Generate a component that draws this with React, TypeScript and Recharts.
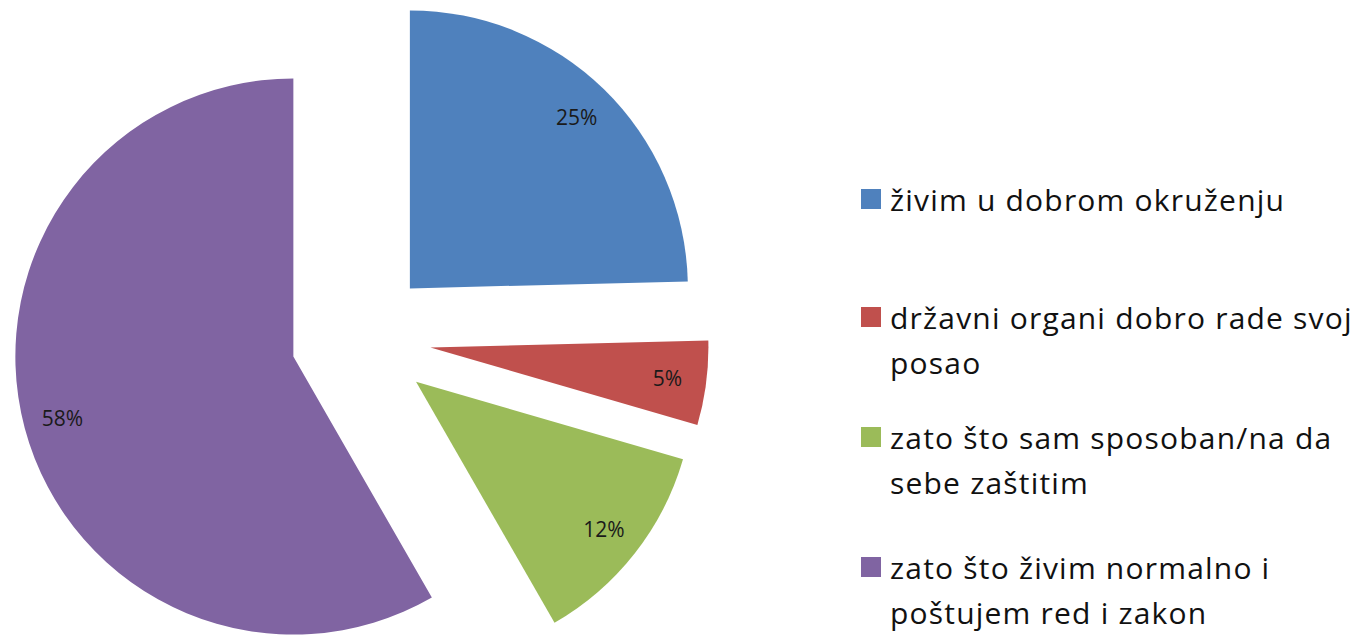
import React from 'react';
import { PieChart, Pie, Cell, Legend } from 'recharts';

const categories = [
  'živim u dobrom okruženju',
  'državni organi dobro rade svoj posao',
  'zato što sam sposoban/na da sebe zaštitim',
  'zato što živim normalno i poštujem red i zakon',
];
const legendLines = [
  ['živim u dobrom okruženju'],
  ['državni organi dobro rade svoj', 'posao'],
  ['zato što sam sposoban/na da', 'sebe zaštitim'],
  ['zato što živim normalno i', 'poštujem red i zakon'],
];
const shares = [24.6, 4.9, 12.2, 58.3];
const colors = ['#4F81BD', '#C0504D', '#9BBB59', '#8064A2'];

const data = categories.map((name, i) => ({ name, value: shares[i] }));

const WIDTH = 1363;
const HEIGHT = 635;
const CENTER_X = 361;
const CENTER_Y = 338.5;
const RADIUS = 278;
const EXPLODE = 70;
const FONT = '"Open Sans", "Noto Sans", sans-serif';

// legend item first-line centres
const legendTops = [199, 317, 437, 567];

const total = shares.reduce((a, b) => a + b, 0);
const midAngles = shares.map((v, i) => {
  const before = shares.slice(0, i).reduce((a, b) => a + b, 0);
  return ((before + v / 2) / total) * 360;
});

const RAD = Math.PI / 180;

const makeLabel = (target: number) => (props: any) => {
  const { cx, cy, midAngle, outerRadius, percent, index } = props;
  if (index !== target) return null;
  const r = outerRadius * 0.86;
  const x = cx + r * Math.cos(-midAngle * RAD);
  const y = cy + r * Math.sin(-midAngle * RAD);
  return (
    <text
      x={x}
      y={y}
      fill="#1a1a1a"
      fontSize={21}
      fontFamily={FONT}
      textAnchor="middle"
      dominantBaseline="central"
    >
      {`${Math.round(percent * 100)}%`}
    </text>
  );
};

const LegendContent = () => (
  <div style={{ position: 'relative', width: 490, height: HEIGHT, fontFamily: FONT }}>
    {legendLines.map((lines, i) => (
      <div key={i} style={{ position: 'absolute', left: 0, top: legendTops[i] - 22 }}>
        <div
          style={{
            position: 'absolute',
            left: 0,
            top: 12,
            width: 20,
            height: 20,
            background: colors[i],
          }}
        />
        <div
          style={{
            marginLeft: 29,
            fontSize: 30,
            letterSpacing: 1.2,
            lineHeight: '45px',
            color: '#111',
            whiteSpace: 'nowrap',
          }}
        >
          {lines.map((l, j) => (
            <div key={j}>{l}</div>
          ))}
        </div>
      </div>
    ))}
  </div>
);

export default function App() {
  return (
    <div style={{ position: 'absolute', left: 0, top: 0, background: '#fff' }}>
      <PieChart width={WIDTH} height={HEIGHT} margin={{ top: 0, right: 0, bottom: 0, left: 0 }}>
        {categories.map((_, s) => (
          <Pie
            key={s}
            data={data}
            dataKey="value"
            nameKey="name"
            cx={CENTER_X + EXPLODE * Math.sin(midAngles[s] * RAD)}
            cy={CENTER_Y - EXPLODE * Math.cos(midAngles[s] * RAD)}
            outerRadius={RADIUS}
            startAngle={90}
            endAngle={-270}
            stroke="none"
            labelLine={false}
            label={makeLabel(s)}
            isAnimationActive={false}
          >
            {data.map((_, i) => (
              <Cell key={i} fill={i === s ? colors[i] : 'none'} />
            ))}
          </Pie>
        ))}
        <Legend
          content={<LegendContent />}
          wrapperStyle={{ position: 'absolute', left: 861, top: 0, width: 490, height: HEIGHT }}
        />
      </PieChart>
    </div>
  );
}
